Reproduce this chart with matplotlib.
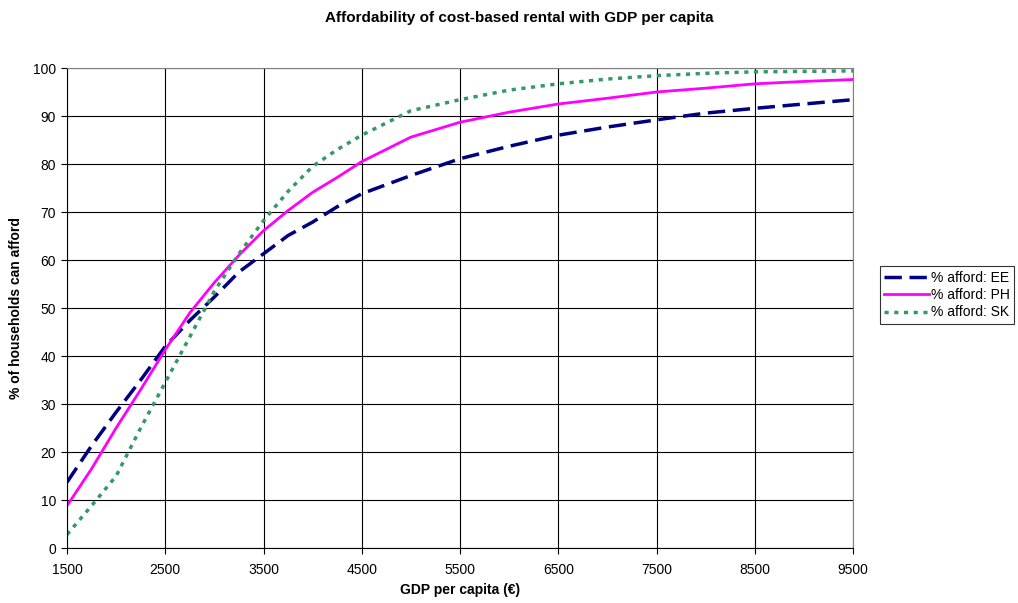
import matplotlib
matplotlib.use("Agg")
import matplotlib.pyplot as plt

plt.rcParams["font.family"] = ["Liberation Sans", "DejaVu Sans"]

# GDP per capita (EUR)
gdp = [1500, 1750, 2000, 2250, 2500, 2750, 3000, 3250, 3500, 3750, 4000, 4250, 4500,
       5000, 5500, 6000, 6500, 7000, 7500, 8000, 8500, 9000, 9500]

# % of households that can afford
afford_ee = [13.7, 21.3, 28.3, 35.0, 42.0, 47.4, 52.3, 57.5, 61.3, 65.1, 67.9, 71.1, 73.8,
             77.6, 81.1, 83.7, 86.0, 87.7, 89.2, 90.6, 91.6, 92.5, 93.4]
afford_ph = [8.8, 16.5, 25.0, 33.0, 41.3, 49.0, 55.3, 61.0, 66.1, 70.3, 74.1, 77.2, 80.5,
             85.6, 88.7, 90.8, 92.5, 93.7, 95.0, 95.8, 96.7, 97.2, 97.6]
afford_sk = [2.8, 8.8, 15.0, 25.0, 34.5, 44.0, 53.5, 61.3, 68.2, 74.3, 79.5, 83.0, 86.0,
             91.1, 93.4, 95.4, 96.7, 97.7, 98.4, 98.9, 99.2, 99.3, 99.4]

fig = plt.figure(figsize=(10.18, 6.03), dpi=100, facecolor="white")
ax = fig.add_axes([67 / 1018, 55 / 603, 786 / 1018, 480 / 603])

ax.plot(gdp, afford_ee, color="#000080", linewidth=2.5, dashes=(5, 2.2), label="% afford: EE")
ax.plot(gdp, afford_ph, color="#FF00FF", linewidth=2.0, label="% afford: PH")
ax.plot(gdp, afford_sk, color="#339966", linewidth=2.5, dashes=(1.2, 1.6), label="% afford: SK")

ax.set_xlim(1500, 9500)
ax.set_ylim(0, 100)
ax.set_xticks(range(1500, 9501, 1000))
ax.set_yticks(range(0, 101, 10))
ax.grid(True, color="black", linewidth=0.8)
ax.set_axisbelow(True)
for s in ax.spines.values():
    s.set_color("#808080")
    s.set_linewidth(0.8)
ax.spines["left"].set_color("black")
ax.spines["bottom"].set_color("black")
ax.tick_params(direction="out", length=4, width=0.8, labelsize=10)
ax.tick_params(axis="x", pad=7)
ax.tick_params(axis="y", pad=4)

ax.set_xlabel("GDP per capita (\u20ac)", fontsize=10, fontweight="bold", labelpad=4)
ax.set_ylabel("% of households can afford", fontsize=10, fontweight="bold", labelpad=7)
fig.text(519 / 1018, 1 - 18 / 603, "Affordability of cost-based rental with GDP per capita",
         ha="center", va="center", fontsize=11, fontweight="bold")

leg = ax.legend(loc="center left", bbox_to_anchor=(880 / 1018, 308 / 603),
                bbox_transform=fig.transFigure, fontsize=10, frameon=True, fancybox=False,
                edgecolor="black", handlelength=3.2, handletextpad=0.2, borderpad=0.3,
                labelspacing=0.25, borderaxespad=0)
leg.get_frame().set_linewidth(0.8)

fig.savefig("out.png", dpi=100, facecolor="white")
